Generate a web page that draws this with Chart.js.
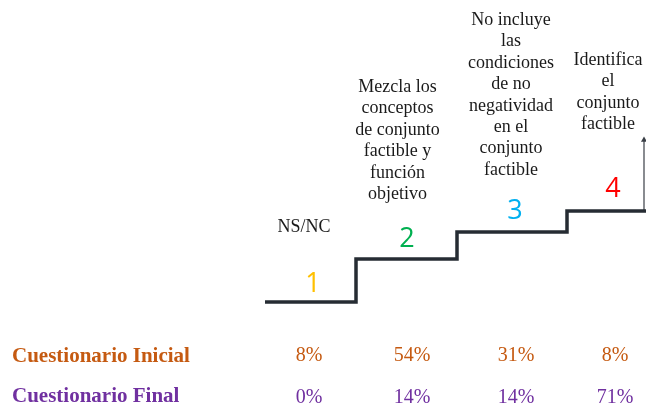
<!DOCTYPE html>
<html>
<head>
<meta charset="utf-8">
<script src="https://cdn.jsdelivr.net/npm/chart.js@4"></script>
<style>
  html, body { margin: 0; padding: 0; background: #ffffff; }
  #wrap { width: 646px; height: 405px; }
</style>
</head>
<body>
<div id="wrap"><canvas id="c" width="646" height="405"></canvas></div>
<script>
// ---------- DATA ----------
const levelLabels = ['1', '2', '3', '4'];
const categories = [
  ['NS/NC'],
  ['Mezcla los', 'conceptos', 'de conjunto', 'factible y', 'función', 'objetivo'],
  ['No incluye', 'las', 'condiciones', 'de no', 'negatividad', 'en el', 'conjunto', 'factible'],
  ['Identifica', 'el', 'conjunto', 'factible']
];
const seriesNames = ['Cuestionario Inicial', 'Cuestionario Final'];
const inicialValues = [8, 54, 31, 8];
const finalValues = [0, 14, 14, 71];
// stair heights (relative units)
const stepLevels = [0, 43, 70, 91];
const arrowTopLevel = 162;
// step boundaries along the x axis (column units)
const stepEdges = [-0.45, 0.46, 1.47, 2.57, 3.36];

// ---------- STYLE / LAYOUT ----------
const SERIF = '"Liberation Serif", "Tinos", "Times New Roman", serif';
const levelColors = ['#FFC000', '#00B050', '#00B0F0', '#FF0000'];
const seriesColors = ['#C55A11', '#7030A0'];
const stairColor = '#262C33';
const digitX = [0.03, 0.97, 2.05, 3.03];
const digitY = [292, 246.5, 219, 197];
const descX = [-0.06, 0.875, 2.01, 2.98];
const descFirstBaseline = [232, 92, 25, 65];
const descLineHeight = 21.4;
const pctX = [-0.01, 1.02, 2.06, 3.05];
const rowBaselines = [360.5, 402.5];
const labelBaselines = [362, 402];

const stairPoints = [];
for (let i = 0; i < stepLevels.length; i++) {
  stairPoints.push({ x: stepEdges[i], y: stepLevels[i] });
}
stairPoints.push({ x: stepEdges[stepEdges.length - 1], y: stepLevels[stepLevels.length - 1] });

const arrowX = stepEdges[stepEdges.length - 1] - 0.02;
const arrowPoints = [
  { x: arrowX, y: stepLevels[stepLevels.length - 1] },
  { x: arrowX, y: arrowTopLevel }
];

const textPlugin = {
  id: 'stairText',
  afterDatasetsDraw(chart) {
    const ctx = chart.ctx;
    const xs = chart.scales.x;
    ctx.save();
    ctx.textAlign = 'center';
    ctx.textBaseline = 'alphabetic';
    // descriptions
    ctx.fillStyle = '#1a1a1a';
    ctx.font = '18px ' + SERIF;
    categories.forEach((lines, i) => {
      const cx = xs.getPixelForValue(descX[i]);
      lines.forEach((ln, j) => {
        ctx.fillText(ln, cx, descFirstBaseline[i] + j * descLineHeight);
      });
    });
    // level digits
    ctx.font = '27px "Open Sans", "Noto Sans", sans-serif';
    levelLabels.forEach((d, i) => {
      ctx.fillStyle = levelColors[i];
      ctx.fillText(d, xs.getPixelForValue(digitX[i]), digitY[i]);
    });
    // row labels
    ctx.textAlign = 'left';
    ctx.font = 'bold 21px ' + SERIF;
    seriesNames.forEach((n, r) => {
      ctx.fillStyle = seriesColors[r];
      ctx.fillText(n, 12, labelBaselines[r]);
    });
    // percentages
    ctx.textAlign = 'center';
    ctx.font = '20px ' + SERIF;
    [inicialValues, finalValues].forEach((vals, r) => {
      ctx.fillStyle = seriesColors[r];
      vals.forEach((v, i) => {
        ctx.fillText(v + '%', xs.getPixelForValue(pctX[i]), rowBaselines[r]);
      });
    });
    ctx.restore();
  }
};

function build() {
  new Chart(document.getElementById('c'), {
    type: 'scatter',
    data: {
      datasets: [
        {
          data: stairPoints,
          showLine: true,
          stepped: 'before',
          borderColor: stairColor,
          borderWidth: 3.5,
          pointRadius: 0,
          fill: false,
          clip: false
        },
        {
          data: arrowPoints,
          showLine: true,
          borderColor: '#3a3f46',
          backgroundColor: '#3a3f46',
          borderWidth: 1.2,
          pointStyle: 'triangle',
          pointRadius: [0, 3.5],
          pointBorderWidth: 0,
          clip: false
        }
      ]
    },
    options: {
      responsive: false,
      animation: false,
      events: [],
      layout: { padding: 0, autoPadding: false },
      plugins: { legend: { display: false }, tooltip: { enabled: false } },
      scales: {
        x: { type: 'linear', min: -3.1, max: 3.36, display: false },
        y: { type: 'linear', min: -103, max: 302, display: false }
      }
    },
    plugins: [textPlugin]
  });
}

Promise.all([
  document.fonts.load('18px "Liberation Serif"'),
  document.fonts.load('bold 21px "Liberation Serif"'),
  document.fonts.load('27px "Open Sans"')
]).then(build, build);
</script>
</body>
</html>
